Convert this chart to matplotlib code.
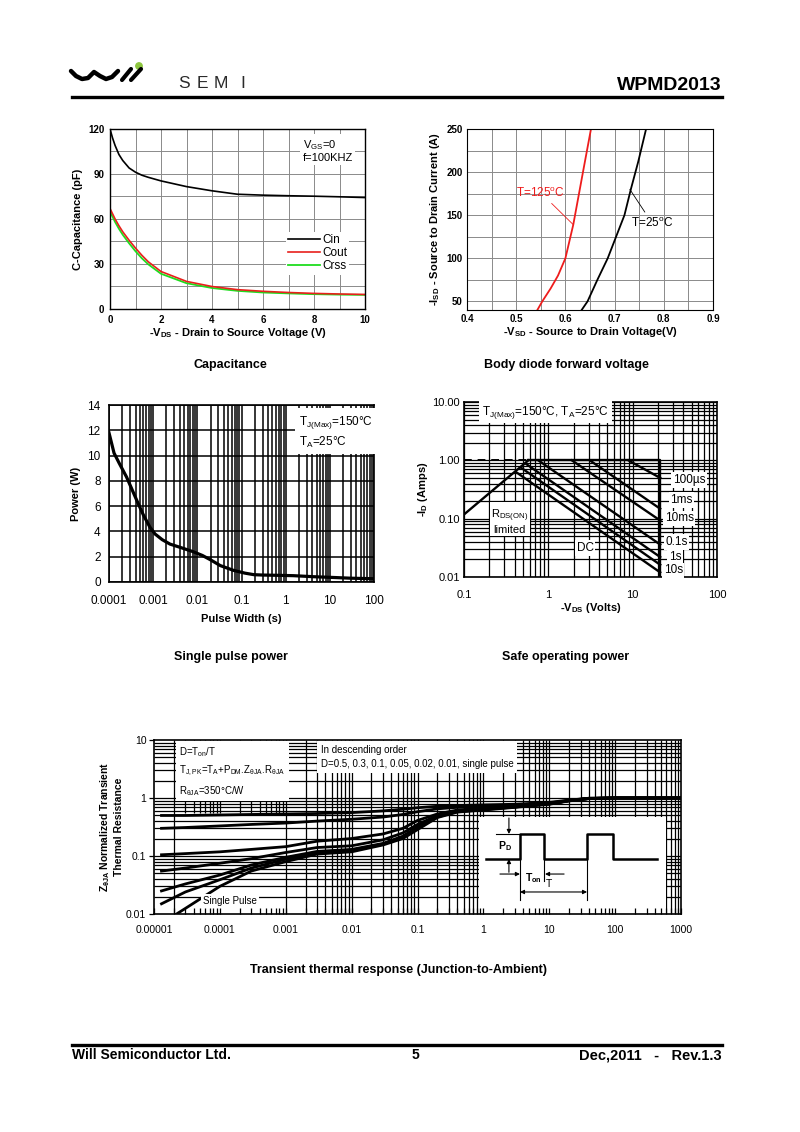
import numpy as np
import matplotlib
matplotlib.use('Agg')
import matplotlib.pyplot as plt
from matplotlib import font_manager
from matplotlib.patches import Rectangle, Circle
from matplotlib.ticker import MultipleLocator, LogLocator, NullFormatter

plt.rcParams['font.family'] = ['Liberation Sans', 'DejaVu Sans']
plt.rcParams['mathtext.default'] = 'regular'

_names = {f.name for f in font_manager.fontManager.ttflist}
NARROW = 'Liberation Sans Narrow' if 'Liberation Sans Narrow' in _names else 'Liberation Sans'

W, H = 800, 1132

# ---------------- data ----------------
# Capacitance vs -VDS
CAP_VDS = [0, 0.1, 0.2, 0.35, 0.5, 0.75, 1, 1.25, 1.5, 2, 3, 4, 5, 6, 7, 8, 9, 10]
CIN = [120, 114, 109, 103, 99, 94, 91.2, 89.2, 87.8, 85.4, 81.6, 78.8, 76.5, 75.9, 75.5, 75.2, 74.8, 74.3]
COUT = [67, 63.5, 60, 55.5, 51.5, 45.8, 40.6, 35.8, 31.5, 25, 18.4, 15, 12.9, 11.8, 11, 10.4, 10, 9.7]
CRSS = [65, 61.5, 58, 53.5, 49.5, 43.8, 38.5, 33.8, 29.8, 23.5, 17.2, 14, 12.1, 11, 10.4, 9.9, 9.6, 9.4]

# Body diode forward voltage
VSD_125 = [0.543, 0.553, 0.570, 0.585, 0.600, 0.616, 0.627, 0.637, 0.652]
ISD_125 = [40, 50, 65, 80, 100, 139, 173, 204, 250]
VSD_25 = [0.633, 0.645, 0.665, 0.686, 0.703, 0.720, 0.733, 0.748, 0.764]
ISD_25 = [40, 50, 75, 100, 125, 150, 180, 212, 250]

# Single pulse power
PW_T = [1e-4, 1.3e-4, 1.7e-4, 2.5e-4, 4.2e-4, 6e-4, 8.4e-4, 1.1e-3, 1.6e-3, 2.4e-3,
        4e-3, 8e-3, 1.3e-2, 2e-2, 3.3e-2, 6.6e-2, 0.12, 0.19, 0.3, 0.63, 1.5, 4.2, 10, 30, 100]
PW_P = [11.8, 10.2, 9.4, 8.3, 6.5, 5.3, 4.35, 3.8, 3.35, 3.0,
        2.75, 2.4, 2.1, 1.75, 1.3, 0.92, 0.7, 0.58, 0.55, 0.53, 0.5, 0.42, 0.37, 0.3, 0.26]
PW_TICKS = [1e-4, 1e-3, 1e-2, 1e-1, 1, 10, 100]
PW_TICK_LABELS = ['0.0001', '0.001', '0.01', '0.1', '1', '10', '100']

# Safe operating area
RDS_V = [0.1, 0.58]
RDS_I = [0.118, 1.0]
DASH_V = [0.1, 0.58]
DASH_I = [1.0, 1.0]
LIMIT_V = [0.58, 21.2, 21.2]
LIMIT_I = [1.0, 1.0, 0.01]
SOA_NAMES = ['100\u00b5s', '1ms', '10ms', '0.1s', '1s', '10s', 'DC']
SOA_V0 = [8.9, 3.1, 1.9, 0.76, 0.55, 0.48, 0.42]
SOA_I0 = [1.0, 1.0, 1.0, 1.0, 0.86, 0.74, 0.62]
SOA_V1 = [21.2, 21.2, 21.2, 21.2, 21.2, 21.2, 21.2]
SOA_I1 = [0.50, 0.148, 0.093, 0.036, 0.022, 0.0162, 0.012]
SOA_XTICKS = [0.1, 1, 10, 100]
SOA_XLABELS = ['0.1', '1', '10', '100']
SOA_YTICKS = [0.01, 0.1, 1, 10]
SOA_YLABELS = ['0.01', '0.10', '1.00', '10.00']

# Transient thermal response
TR_T = [1.3e-5, 3e-5, 1e-4, 3e-4, 1e-3, 3e-3, 1e-2, 3e-2, 6e-2, 1e-1, 2e-1, 4e-1, 1, 3, 10, 20, 40, 100, 1000]
Z_D05 = [0.5, 0.5, 0.51, 0.52, 0.53, 0.54, 0.56, 0.6, 0.64, 0.68, 0.72, 0.74, 0.76, 0.78, 0.84, 0.92, 0.99, 1.0, 1.0]
Z_D03 = [0.3, 0.31, 0.33, 0.35, 0.37, 0.4, 0.43, 0.47, 0.52, 0.58, 0.65, 0.69, 0.72, 0.75, 0.82, 0.91, 0.99, 1.0, 1.0]
Z_D01 = [0.105, 0.11, 0.118, 0.13, 0.145, 0.18, 0.2, 0.24, 0.3, 0.41, 0.53, 0.62, 0.67, 0.72, 0.8, 0.9, 0.98, 1.0, 1.0]
Z_D005 = [0.055, 0.062, 0.075, 0.09, 0.115, 0.14, 0.15, 0.19, 0.25, 0.35, 0.5, 0.6, 0.65, 0.71, 0.8, 0.9, 0.98, 1.0, 1.0]
Z_D002 = [0.025, 0.033, 0.047, 0.07, 0.095, 0.12, 0.13, 0.165, 0.22, 0.32, 0.48, 0.59, 0.64, 0.7, 0.79, 0.9, 0.98, 1.0, 1.0]
Z_D001 = [0.015, 0.024, 0.039, 0.062, 0.088, 0.113, 0.123, 0.16, 0.21, 0.3, 0.47, 0.58, 0.63, 0.7, 0.79, 0.9, 0.98, 1.0, 1.0]
SP_T = [2.2e-5, 3e-5, 1e-4, 3e-4, 1e-3, 3e-3, 1e-2, 3e-2, 6e-2, 1e-1, 2e-1, 4e-1, 1, 3, 10, 20, 40, 100, 1000]
Z_SP = [0.01, 0.0125, 0.03, 0.055, 0.08, 0.108, 0.118, 0.155, 0.2, 0.285, 0.46, 0.57, 0.62, 0.69, 0.78, 0.89, 0.98, 1.0, 1.0]
TR_XTICKS = [1e-5, 1e-4, 1e-3, 1e-2, 1e-1, 1, 10, 100, 1000]
TR_XLABELS = ['0.00001', '0.0001', '0.001', '0.01', '0.1', '1', '10', '100', '1000']
TR_YTICKS = [0.01, 0.1, 1, 10]
TR_YLABELS = ['0.01', '0.1', '1', '10']

# pulse sketch in the inset (schematic units 0..100)
WAVE_X = [3.7, 21.9, 21.9, 34.8, 34.8, 57.8, 57.8, 71.7, 71.7, 95.2]
WAVE_Y = [56.7, 56.7, 82.5, 82.5, 56.7, 56.7, 82.5, 82.5, 56.7, 56.7]


def px_axes(fig, box):
    x0, y0, x1, y1 = box
    return fig.add_axes([x0 / W, 1 - y1 / H, (x1 - x0) / W, (y1 - y0) / H])


def place_labels(ax, box, xlab_y, ylab_x):
    x0, y0, x1, y1 = box
    ax.xaxis.set_label_coords(0.5, (y1 - xlab_y) / (y1 - y0))
    ax.yaxis.set_label_coords((ylab_x - x0) / (x1 - x0), 0.5)
    ax.xaxis.label.set_va('center')
    ax.yaxis.label.set_va('center')


def bold_ticks(ax):
    for t in ax.get_xticklabels() + ax.get_yticklabels():
        t.set_fontweight('bold')


fig = plt.figure(figsize=(W / 100, H / 100), dpi=100)
NARROW_FAM = [NARROW, 'Liberation Sans', 'DejaVu Sans']

# ---------------- page: header / footer / titles ----------------
page = fig.add_axes([0, 0, 1, 1])
page.set_xlim(0, W)
page.set_ylim(H, 0)
page.axis('off')

page.plot([71, 76, 82, 88, 94, 100, 106, 112, 118], [71, 76, 79, 78, 72, 76, 79, 77, 71],
          color='black', lw=3.2, solid_capstyle='round', solid_joinstyle='round')
page.plot([122, 131], [80, 69], color='black', lw=3.0, solid_capstyle='round')
page.plot([131, 141], [80, 69], color='black', lw=3.0, solid_capstyle='round')
page.add_patch(Circle((139, 66), 3.2, color='#8dc63f'))
for ch, xx in zip('SEMI', [184, 202, 221, 243]):
    page.text(xx, 84, ch, ha='center', va='center', fontsize=12.5, color='#2a2a2a')
page.text(722, 85, 'WPMD2013', ha='right', va='center', fontsize=14, fontweight='bold',
          family=NARROW_FAM)
page.plot([72, 722], [97, 97], color='black', lw=2.4)

page.plot([72, 722], [1045, 1045], color='black', lw=2.4)
page.text(72, 1055, 'Will Semiconductor Ltd.', ha='left', va='center', fontsize=10,
          fontweight='bold', family=NARROW_FAM)
page.text(415, 1055, '5', ha='center', va='center', fontsize=10, fontweight='bold',
          family=NARROW_FAM)
page.text(722, 1055, 'Dec,2011   -   Rev.1.3', ha='right', va='center', fontsize=10.5,
          fontweight='bold', family=NARROW_FAM)

for txt, xx, yy in [('Capacitance', 230, 365), ('Body diode forward voltage', 566, 365),
                    ('Single pulse power', 231, 657), ('Safe operating power', 566, 657),
                    ('Transient thermal response (Junction-to-Ambient)', 399, 970)]:
    page.text(xx, yy, txt, ha='center', va='center', fontsize=9, fontweight='bold')

# ---------------- Capacitance ----------------
BOX1 = (110, 129, 365, 309)
ax1 = px_axes(fig, BOX1)
ax1.plot(CAP_VDS, CIN, color='black', lw=1.2, label='Cin')
ax1.plot(CAP_VDS, CRSS, color='#1fdc1f', lw=1.3, label='Crss')
ax1.plot(CAP_VDS, COUT, color='#e8201c', lw=1.2, label='Cout')
ax1.set_xlim(0, 10)
ax1.set_ylim(0, 120)
ax1.xaxis.set_major_locator(MultipleLocator(2))
ax1.xaxis.set_minor_locator(MultipleLocator(1))
ax1.yaxis.set_major_locator(MultipleLocator(30))
ax1.yaxis.set_minor_locator(MultipleLocator(15))
ax1.set_axisbelow(True)
ax1.grid(which='both', color='#8a8a8a', lw=0.7)
ax1.tick_params(which='both', length=0, labelsize=7, pad=4)
bold_ticks(ax1)
ax1.set_xlabel('-V$_{DS}$ - Drain to Source Voltage (V)', fontsize=8, fontweight='bold')
ax1.set_ylabel('C-Capacitance (pF)', fontsize=8, fontweight='bold')
place_labels(ax1, BOX1, 333, 78)
h, l = ax1.get_legend_handles_labels()
order = [0, 2, 1]
leg = ax1.legend([h[i] for i in order], [l[i] for i in order], loc='upper left',
                 bbox_to_anchor=(0.69, 0.43), fontsize=8.5, frameon=True, handlelength=2.7,
                 handletextpad=0.15, labelspacing=0.1, borderpad=0.2, borderaxespad=0)
leg.get_frame().set_edgecolor('none')
leg.get_frame().set_facecolor('white')
leg.get_frame().set_alpha(1)
ax1.text(7.55, 114, 'V$_{GS}$=0\nf=100KHZ', ha='left', va='top', fontsize=8, linespacing=1.15,
         bbox=dict(fc='white', ec='none', pad=1.5))
for s in ax1.spines.values():
    s.set_linewidth(1.0)

# ---------------- Body diode ----------------
BOX2 = (467, 129, 713, 310)
ax2 = px_axes(fig, BOX2)
ax2.plot(VSD_125, ISD_125, color='#ee1c1c', lw=1.3)
ax2.plot(VSD_25, ISD_25, color='black', lw=1.3)
ax2.set_xlim(0.4, 0.9)
ax2.set_ylim(40, 250)
ax2.xaxis.set_major_locator(MultipleLocator(0.1))
ax2.xaxis.set_minor_locator(MultipleLocator(0.05))
ax2.yaxis.set_major_locator(MultipleLocator(50))
ax2.yaxis.set_minor_locator(MultipleLocator(25))
ax2.set_axisbelow(True)
ax2.grid(which='both', color='#8a8a8a', lw=0.7)
ax2.tick_params(which='both', length=0, labelsize=7, pad=3)
bold_ticks(ax2)
ax2.set_xlabel('-V$_{SD}$ - Source to Drain Voltage(V)', fontsize=8, fontweight='bold')
ax2.set_ylabel('-I$_{SD}$ - Source to Drain Current (A)', fontsize=8, fontweight='bold')
place_labels(ax2, BOX2, 332, 435)
ax2.annotate('T=125$^o$C', xy=(0.616, 139), xytext=(0.550, 176), ha='center', va='center',
             color='#ee1c1c', fontsize=8.5,
             arrowprops=dict(arrowstyle='-', color='#ee1c1c', lw=0.6, shrinkA=1, shrinkB=0))
ax2.annotate('T=25$^o$C', xy=(0.731, 180), xytext=(0.776, 141), ha='center', va='center',
             color='black', fontsize=8.5,
             arrowprops=dict(arrowstyle='-', color='black', lw=0.6, shrinkA=1, shrinkB=0))

# ---------------- Single pulse power ----------------
BOX3 = (109, 405, 374, 582)
ax3 = px_axes(fig, BOX3)
ax3.semilogx(PW_T, PW_P, color='black', lw=2.3, zorder=2)
ax3.set_xlim(1e-4, 100)
ax3.set_ylim(0, 14)
ax3.set_xticks(PW_TICKS)
ax3.set_xticklabels(PW_TICK_LABELS)
ax3.xaxis.set_minor_locator(LogLocator(base=10, subs=np.arange(2, 10)))
ax3.xaxis.set_minor_formatter(NullFormatter())
ax3.yaxis.set_major_locator(MultipleLocator(2))
ax3.set_axisbelow(True)
ax3.grid(which='both', color='black', lw=1.1)
ax3.tick_params(which='both', length=0, labelsize=8.5)
ax3.tick_params(axis='x', pad=9)
ax3.tick_params(axis='y', pad=6)
ax3.set_xlabel('Pulse Width (s)', fontsize=8, fontweight='bold')
ax3.set_ylabel('Power (W)', fontsize=8, fontweight='bold')
place_labels(ax3, BOX3, 619, 76)
ax3.text(2.0, 13.3, 'T$_{J(Max)}$=150\u00b0C\nT$_A$=25\u00b0C', ha='left', va='top', fontsize=8.5,
         linespacing=1.4, bbox=dict(fc='white', ec='none', pad=3))
for s in ax3.spines.values():
    s.set_linewidth(1.2)

# ---------------- Safe operating area ----------------
BOX4 = (464, 402, 717, 577)
ax4 = px_axes(fig, BOX4)
ax4.set_xscale('log')
ax4.set_yscale('log')
ax4.plot(DASH_V, DASH_I, color='black', lw=1.4, dashes=(4, 3))
ax4.plot(RDS_V, RDS_I, color='black', lw=1.7)
ax4.plot(LIMIT_V, LIMIT_I, color='black', lw=1.7)
for v0, i0, v1, i1 in zip(SOA_V0, SOA_I0, SOA_V1, SOA_I1):
    ax4.plot([v0, v1], [i0, i1], color='black', lw=1.7)
ax4.set_xlim(0.1, 100)
ax4.set_ylim(0.01, 10)
ax4.set_xticks(SOA_XTICKS)
ax4.set_xticklabels(SOA_XLABELS)
ax4.set_yticks(SOA_YTICKS)
ax4.set_yticklabels(SOA_YLABELS)
for axis in (ax4.xaxis, ax4.yaxis):
    axis.set_minor_locator(LogLocator(base=10, subs=np.arange(2, 10)))
    axis.set_minor_formatter(NullFormatter())
ax4.set_axisbelow(True)
ax4.grid(which='both', color='black', lw=0.9)
ax4.tick_params(which='both', length=0, labelsize=8)
ax4.tick_params(axis='x', pad=9)
ax4.tick_params(axis='y', pad=3)
ax4.set_xlabel('-V$_{DS}$ (Volts)', fontsize=8, fontweight='bold')
ax4.set_ylabel('-I$_D$ (Amps)', fontsize=8, fontweight='bold')
place_labels(ax4, BOX4, 608, 423)
box_w = dict(fc='white', ec='none', pad=1.2)
ax4.text(0.164, 6.7, 'T$_{J(Max)}$=150\u00b0C, T$_A$=25\u00b0C', ha='left', va='center', fontsize=8.5,
         bbox=dict(fc='white', ec='none', pad=2))
label_pos = [(47, 0.46), (37.8, 0.208), (35.7, 0.102), (33, 0.0397), (32, 0.0219), (30.3, 0.0131),
             (2.74, 0.0313)]
for name, (tx, ty) in zip(SOA_NAMES, label_pos):
    ax4.text(tx, ty, name, ha='center', va='center', fontsize=8.5, bbox=box_w)
ax4.text(0.35, 0.091, 'R$_{DS(ON)}$\nlimited', ha='center', va='center', fontsize=8,
         linespacing=1.1, bbox=box_w)
for s in ax4.spines.values():
    s.set_linewidth(1.2)

# ---------------- Transient thermal response ----------------
BOX5 = (154, 740, 681, 914)
ax5 = px_axes(fig, BOX5)
ax5.set_xscale('log')
ax5.set_yscale('log')
ax5.set_xlim(1e-5, 1e3)
ax5.set_ylim(0.01, 10)

# hand-drawn grid, as in the datasheet some vertical lines stop short
decades_x = 10.0 ** np.arange(-5, 3)
grid_x = np.concatenate([d * np.arange(1, 10) for d in decades_x])[1:]
for gx in grid_x:
    if gx < 9.9e-4 and not np.isclose(gx, 2e-5):
        ax5.vlines(gx, 0.55, 10, color='black', lw=0.9, zorder=1)
    else:
        ax5.vlines(gx, 0.01, 10, color='black', lw=0.9, zorder=1)
decades_y = 10.0 ** np.arange(-2, 1)
grid_y = np.concatenate([d * np.arange(1, 10) for d in decades_y])[1:]
for gy in grid_y:
    ax5.hlines(gy, 1e-5, 1e3, color='black', lw=0.9, zorder=1)

ax5.add_patch(Rectangle((0.855, 0.01), 590 - 0.855, 0.47 - 0.01, fc='white', ec='none', zorder=1.5))

for ys in (Z_D05, Z_D03, Z_D01, Z_D005, Z_D002, Z_D001):
    ax5.plot(TR_T, ys, color='black', lw=2.0, zorder=2)
ax5.plot(SP_T, Z_SP, color='black', lw=2.0, zorder=2)

ax5.set_xticks(TR_XTICKS)
ax5.set_xticklabels(TR_XLABELS)
ax5.set_yticks(TR_YTICKS)
ax5.set_yticklabels(TR_YLABELS)
ax5.xaxis.set_minor_locator(LogLocator(base=10, subs=np.arange(2, 10)))
ax5.xaxis.set_minor_formatter(NullFormatter())
ax5.yaxis.set_minor_locator(LogLocator(base=10, subs=np.arange(2, 10)))
ax5.yaxis.set_minor_formatter(NullFormatter())
ax5.set_axisbelow(False)
ax5.tick_params(axis='x', which='both', direction='in', length=4.5, width=0.9, labelsize=7.5, pad=8)
ax5.tick_params(axis='y', which='major', direction='out', length=3.5, width=0.9, labelsize=7.5, pad=2)
ax5.tick_params(axis='y', which='minor', length=0)
ax5.set_ylabel('Z$_{\u03b8JA}$ Normalized Transient\nThermal Resistance', fontsize=7.5,
               fontweight='bold', linespacing=1.3)
ax5.yaxis.set_label_coords((111 - 154) / (681 - 154), 0.5)
ax5.yaxis.label.set_va('center')

ax5.text(2.4e-5, 8.2, 'D=T$_{on}$/T\nT$_{J,PK}$=T$_A$+P$_{DM}$.Z$_{\u03b8JA}$.R$_{\u03b8JA}$\nR$_{\u03b8JA}$=350\u00b0C/W',
         ha='left', va='top', fontsize=7, linespacing=1.55,
         bbox=dict(fc='white', ec='none', pad=2.5))
ax5.text(3.4e-3, 8.2, 'In descending order\nD=0.5, 0.3, 0.1, 0.05, 0.02, 0.01, single pulse',
         ha='left', va='top', fontsize=7, linespacing=1.55,
         bbox=dict(fc='white', ec='none', pad=2.5))
ax5.text(5.6e-5, 0.0165, 'Single Pulse', ha='left', va='center', fontsize=7,
         bbox=dict(fc='white', ec='none', pad=1.5))
for s in ax5.spines.values():
    s.set_linewidth(1.2)

# inset pulse sketch
ins = ax5.inset_axes([(479 - 154) / 527, 0.0, 187 / 527, 97 / 174])
ins.set_xlim(0, 100)
ins.set_ylim(0, 100)
ins.axis('off')
ins.patch.set_alpha(0)
ins.plot(WAVE_X, WAVE_Y, color='black', lw=1.8)
thin = dict(color='black', lw=0.8)
ins.plot([9.1, 21.9], [82.5, 82.5], **thin)
ins.plot([21.9, 21.9], [56.7, 14.4], **thin)
ins.plot([34.8, 34.8], [56.7, 34.0], **thin)
ins.plot([57.8, 57.8], [56.7, 14.4], **thin)
arrow = dict(arrowstyle='-|>', color='black', lw=0.8, mutation_scale=6, shrinkA=0, shrinkB=0)
ins.annotate('', xy=(16, 82.5), xytext=(16, 99), arrowprops=arrow)
ins.annotate('', xy=(16, 56.7), xytext=(16, 43), arrowprops=arrow)
ins.annotate('', xy=(21.9, 41.2), xytext=(11.2, 41.2), arrowprops=arrow)
ins.annotate('', xy=(35.3, 41.2), xytext=(45.5, 41.2), arrowprops=arrow)
ins.annotate('', xy=(21.9, 22.7), xytext=(57.8, 22.7),
             arrowprops=dict(arrowstyle='<|-|>', color='black', lw=0.8, mutation_scale=6,
                             shrinkA=0, shrinkB=0))
ins.text(13.9, 70, 'P$_D$', ha='center', va='center', fontsize=7.5, fontweight='bold')
ins.text(28.9, 37, 'T$_{on}$', ha='center', va='center', fontsize=7.5, fontweight='bold')
ins.text(37.5, 31, 'T', ha='center', va='center', fontsize=7.5)

fig.savefig('out.png', dpi=100)
